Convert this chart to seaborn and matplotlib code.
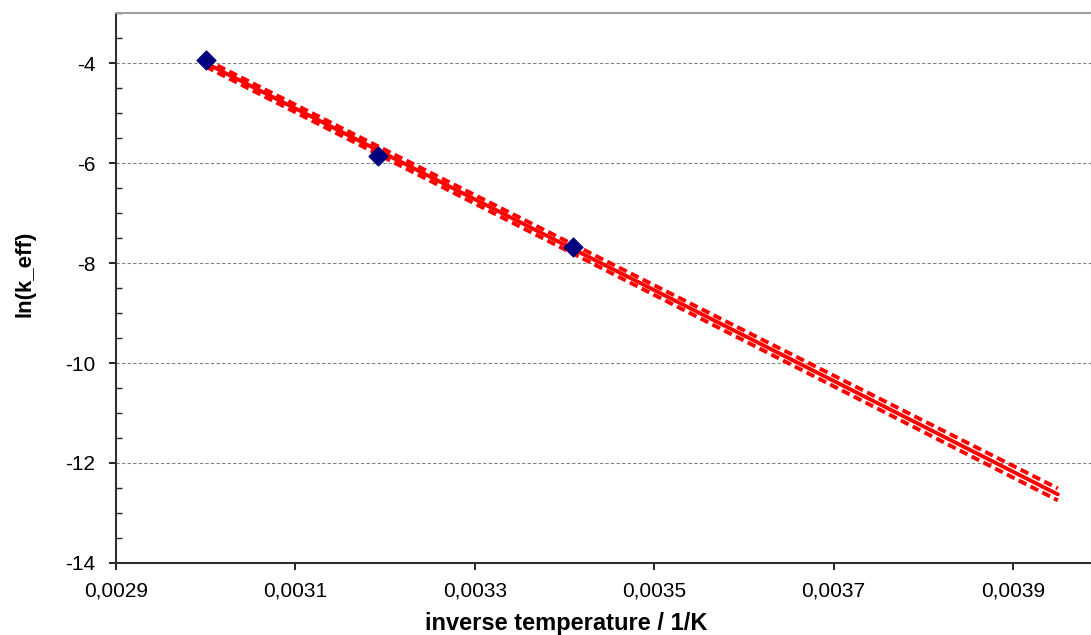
import numpy as np
import pandas as pd
import matplotlib
matplotlib.use("Agg")
import matplotlib.pyplot as plt
from matplotlib.ticker import MultipleLocator, FuncFormatter
import seaborn as sns

# measured points (Arrhenius plot)
inv_temp = [0.003000, 0.003192, 0.003410]
ln_k = [-3.94, -5.86, -7.67]

# range of the fitted line and half width of the dashed band at both ends
fit_range = [0.003000, 0.003950]
band_half = [0.07, 0.12]

x_ticks = [0.0029, 0.0031, 0.0033, 0.0035, 0.0037, 0.0039]
y_ticks = [-14, -12, -10, -8, -6, -4]

sns.set_theme(style="white")
plt.rcParams["font.family"] = ["Liberation Sans", "DejaVu Sans"]
plt.rcParams["axes.unicode_minus"] = False

fig = plt.figure(figsize=(10.91, 6.35), dpi=100)
ax = fig.add_axes([0.1063, 0.1134, 0.8937, 0.8661])

# linear fit through the points
slope, icpt = np.polyfit(inv_temp, ln_k, 1)
fit = pd.DataFrame({"x": fit_range})
fit["y"] = slope * fit["x"] + icpt
fit["upper"] = fit["y"] + np.array(band_half)
fit["lower"] = fit["y"] - np.array(band_half)

sns.lineplot(data=fit, x="x", y="y", color="#ff0000", lw=2.8, ax=ax, zorder=3)
for col in ["upper", "lower"]:
    sns.lineplot(data=fit, x="x", y=col, color="#ff0000", lw=2.8, ax=ax,
                 dashes=False, zorder=3).lines[-1].set_dashes((2.2, 1.2))

pts = pd.DataFrame({"x": inv_temp, "y": ln_k})
sns.scatterplot(data=pts, x="x", y="y", marker="D", s=95, color="#00007f",
                edgecolor="#00007f", ax=ax, zorder=4)

ax.set_xlim(0.0029, 0.003987)
ax.set_ylim(-14, -3)
ax.set_xticks(x_ticks)
ax.set_yticks(y_ticks)
ax.yaxis.set_minor_locator(MultipleLocator(0.5))
ax.xaxis.set_major_formatter(FuncFormatter(lambda v, p: f"{v:.4f}".replace(".", ",")))
ax.yaxis.set_major_formatter(FuncFormatter(lambda v, p: f"{v:.0f}"))

ax.grid(axis="y", which="major", color="#808080", ls=(0, (3, 2)), lw=0.8)
ax.grid(axis="x", visible=False)

for s in ["left", "bottom"]:
    ax.spines[s].set_color("#303030")
    ax.spines[s].set_linewidth(1.5)
ax.spines["top"].set_color("#a0a0a0")
ax.spines["top"].set_linewidth(1.5)
ax.spines["right"].set_visible(False)

ax.tick_params(axis="y", which="major", direction="out", length=5, width=1.2,
               left=True, labelsize=15, pad=10, colors="black")
ax.tick_params(axis="y", which="minor", direction="in", length=4, width=1.0, left=True)
ax.tick_params(axis="x", which="major", direction="out", length=5, width=1.2,
               bottom=True, labelsize=15, pad=8, colors="black")

ax.set_xlabel("inverse temperature / 1/K", fontsize=17, fontweight="bold", color="black")
ax.set_ylabel("ln(k_eff)", fontsize=16, fontweight="bold", color="black")
ax.xaxis.set_label_coords(0.462, -0.09)
ax.yaxis.set_label_coords(-0.083, 0.525)

fig.savefig("out.png", dpi=100)
